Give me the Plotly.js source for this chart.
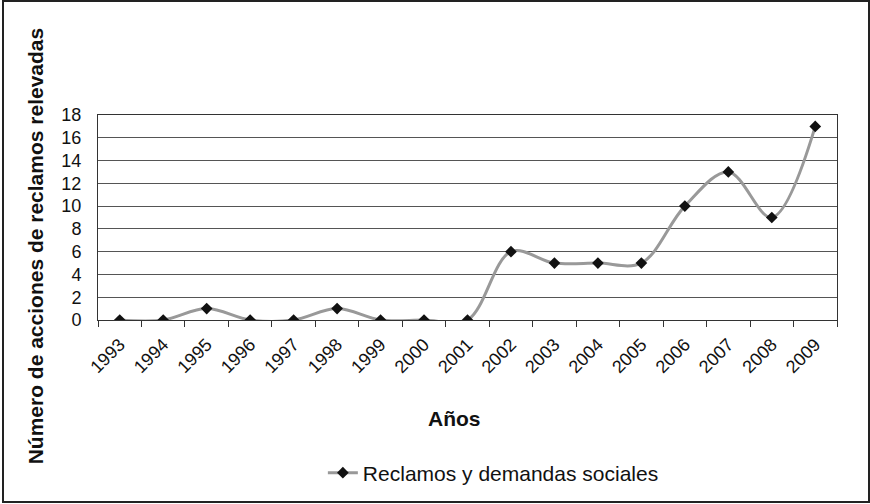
<!DOCTYPE html>
<html>
<head>
<meta charset="utf-8">
<script src="https://cdn.plot.ly/plotly-3.0.1.min.js"></script>
<style>
  html, body { margin: 0; padding: 0; background: #fff; }
  #wrap { position: relative; width: 870px; height: 504px; }
  #chart { width: 870px; height: 504px; }
  #frame { position: absolute; left: 2px; top: 0px; width: 868px; height: 503px;
           border: 2px solid #222; box-sizing: border-box; pointer-events: none; }
</style>
</head>
<body>
<div id="wrap">
  <div id="chart"></div>
  <div id="frame"></div>
</div>
<script>
const years = ["1993","1994","1995","1996","1997","1998","1999","2000","2001",
               "2002","2003","2004","2005","2006","2007","2008","2009"];
const reclamos = [0, 0, 1, 0, 0, 1, 0, 0, 0, 6, 5, 5, 5, 10, 13, 9, 17];
const seriesName = "Reclamos y demandas sociales";
const xTitle = "Años";
const yTitle = "Número de acciones de reclamos relevadas";

const FONT = '"Liberation Sans", Arial, sans-serif';

const trace = {
  x: years,
  y: reclamos,
  type: "scatter",
  mode: "lines+markers",
  name: seriesName,
  line: { color: "#999999", width: 3, shape: "spline", smoothing: 1 },
  marker: { symbol: "diamond", color: "#111111", size: 9 }
};

const layout = {
  width: 870,
  height: 504,
  margin: { l: 98, r: 33, t: 115, b: 183 },
  paper_bgcolor: "#ffffff",
  plot_bgcolor: "#ffffff",
  font: { family: FONT, color: "#111111", size: 16 },
  showlegend: true,
  legend: {
    orientation: "h",
    x: 0.535, xanchor: "center",
    y: -0.738, yanchor: "middle",
    font: { family: FONT, size: 21, color: "#111111" },
    bgcolor: "rgba(0,0,0,0)"
  },
  xaxis: {
    type: "category",
    range: [-0.5, years.length - 0.5],
    autorange: false,
    tickson: "boundaries",
    ticks: "outside",
    ticklen: 6,
    tickcolor: "#333333",
    tickwidth: 1,
    tickangle: -45,
    ticklabelstandoff: 6,
    tickfont: { family: FONT, size: 18, color: "#111111" },
    showline: true,
    linecolor: "#333333",
    linewidth: 1,
    mirror: true,
    showgrid: false,
    zeroline: false
  },
  yaxis: {
    range: [0, 18],
    autorange: false,
    dtick: 2,
    tick0: 0,
    ticks: "",
    ticklabelstandoff: 12,
    tickfont: { family: FONT, size: 18, color: "#111111" },
    showline: true,
    linecolor: "#333333",
    linewidth: 1,
    mirror: true,
    showgrid: true,
    gridcolor: "#555555",
    gridwidth: 1,
    zeroline: false
  },
  annotations: [
    {
      text: "<b>" + yTitle + "</b>",
      xref: "paper", yref: "paper",
      x: -0.0853, y: 0.364,
      xanchor: "center", yanchor: "middle",
      textangle: -90,
      showarrow: false,
      font: { family: FONT, size: 21, color: "#111111" }
    },
    {
      text: "<b>" + xTitle + "</b>",
      xref: "paper", yref: "paper",
      x: 0.482, y: -0.48,
      xanchor: "center", yanchor: "middle",
      showarrow: false,
      font: { family: FONT, size: 21, color: "#111111" }
    }
  ]
};

Plotly.newPlot("chart", [trace], layout, { displayModeBar: false, staticPlot: true });
</script>
</body>
</html>
